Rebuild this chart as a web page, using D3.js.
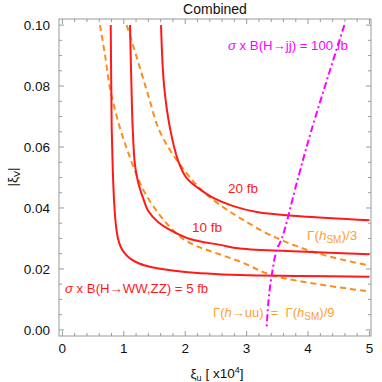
<!DOCTYPE html>
<html><head><meta charset="utf-8">
<script src="https://cdn.jsdelivr.net/npm/d3@7"></script>
<style>body{margin:0;background:#fff}svg{display:block}text{font-family:"Liberation Sans",Arial,sans-serif;white-space:pre}</style>
</head><body>
<svg id="c" width="382" height="382"></svg>
<script>
// ---- data (x: xi_u [x10^4], y: |xi_V|) ----
const xTicks = [0, 1, 2, 3, 4, 5];
const yTicks = [0.00, 0.02, 0.04, 0.06, 0.08, 0.10];
const yTickLabels = ["0.00", "0.02", "0.04", "0.06", "0.08", "0.10"];
const red5fb = [[0.787,0.1000],[0.795,0.082],[0.803,0.0662],[0.820,0.0530],[0.840,0.0430],[0.866,0.0355],[0.900,0.0305],[0.950,0.0272],[1.020,0.0250],[1.110,0.0233],[1.250,0.0218],[1.500,0.0204],[1.964,0.0191],[2.893,0.0180],[3.870,0.0177],[5.0,0.0174]];
const red10fb = [[1.101,0.1000],[1.122,0.0820],[1.145,0.0662],[1.182,0.0541],[1.236,0.0482],[1.313,0.0433],[1.399,0.0390],[1.557,0.0354],[1.752,0.0328],[2.078,0.0298],[2.567,0.0279],[2.893,0.0267],[3.870,0.0257],[5.0,0.0248]];
const red20fb = [[1.606,0.1000],[1.655,0.0803],[1.752,0.0662],[1.888,0.0553],[2.024,0.0498],[2.208,0.0466],[2.458,0.0433],[2.783,0.0406],[3.164,0.0387],[3.870,0.0373],[5.0,0.0360]];
const gammaThird = [[1.047,0.1000],[1.150,0.0934],[1.264,0.0859],[1.410,0.0761],[1.562,0.0662],[1.752,0.0590],[1.932,0.0538],[2.127,0.0489],[2.322,0.0449],[2.567,0.0410],[2.893,0.0367],[3.430,0.0307],[4.163,0.0251],[5.0,0.0211]];
const gammaNinth = [[0.612,0.1000],[0.694,0.0902],[0.775,0.0793],[0.938,0.0662],[1.068,0.0584],[1.231,0.0498],[1.362,0.0443],[1.536,0.0390],[1.720,0.0344],[1.943,0.0302],[2.160,0.0277],[2.404,0.0259],[2.893,0.0224],[3.409,0.0180],[4.195,0.0149],[5.0,0.0126]];
const jj100fb = [[4.591,0.1000],[4.358,0.0852],[4.049,0.0651],[3.837,0.0498],[3.577,0.0302],[3.490,0.0262],[3.409,0.0180],[3.357,0.0098],[3.327,0.0011]];

const svg = d3.select("#c");
const L = 59, R = 371, T = 19, B = 336;
const x = d3.scaleLinear().domain([-0.055, 5.025]).range([L, R]);
const y = d3.scaleLinear().domain([-0.002, 0.102]).range([B, T]);
const frameCol = "#9a9a9a";

// minor/major ticks
const g = svg.append("g");
const xMinor = d3.range(0, 5.001, 0.2);
const yMinor = d3.range(0, 0.1001, 0.005);
const isMajX = v => Math.abs(v - Math.round(v)) < 1e-6;
const isMajY = v => Math.abs(v/0.02 - Math.round(v/0.02)) < 1e-6;
xMinor.forEach(v => {
  const len = isMajX(v) ? 5 : 3;
  g.append("line").attr("x1", x(v)).attr("x2", x(v)).attr("y1", B).attr("y2", B - len).attr("stroke", frameCol);
  g.append("line").attr("x1", x(v)).attr("x2", x(v)).attr("y1", T).attr("y2", T + len).attr("stroke", frameCol);
});
yMinor.forEach(v => {
  const len = isMajY(v) ? 5 : 3;
  g.append("line").attr("y1", y(v)).attr("y2", y(v)).attr("x1", L).attr("x2", L + len).attr("stroke", frameCol);
  g.append("line").attr("y1", y(v)).attr("y2", y(v)).attr("x1", R).attr("x2", R - len).attr("stroke", frameCol);
});
svg.append("rect").attr("x", L).attr("y", T).attr("width", R - L).attr("height", B - T)
  .attr("fill", "none").attr("stroke", frameCol).attr("stroke-width", 1);

// tick labels
xTicks.forEach(v => svg.append("text").attr("x", x(v)).attr("y", 353).attr("text-anchor", "middle")
  .attr("font-size", 13.5).attr("fill", "#111").text(v));
yTicks.forEach((v, i) => svg.append("text").attr("x", 50).attr("y", y(v) + 5).attr("text-anchor", "end")
  .attr("font-size", 13.5).attr("fill", "#111").text(yTickLabels[i]));

// curves
svg.append("clipPath").attr("id", "pc").append("rect").attr("x", L).attr("y", T).attr("width", R - L).attr("height", B - T);
const line = d3.line().x(d => x(d[0])).y(d => y(d[1])).curve(d3.curveCatmullRom.alpha(0.5));
const cg = svg.append("g").attr("clip-path", "url(#pc)");
const RED = "#ff1a1a", ORANGE = "#ff8c1a", MAG = "#ff00ff";
[gammaNinth, gammaThird].forEach(d => cg.append("path").attr("d", line(d)).attr("fill", "none")
  .attr("stroke", ORANGE).attr("stroke-width", 2).attr("stroke-dasharray", "6,4"));
[red5fb, red10fb, red20fb].forEach(d => cg.append("path").attr("d", line(d)).attr("fill", "none")
  .attr("stroke", RED).attr("stroke-width", 2));
cg.append("path").attr("d", line(jj100fb)).attr("fill", "none").attr("stroke", MAG).attr("stroke-width", 2)
  .attr("stroke-dasharray", "7,3,2,3");

// title & axis labels
svg.append("text").attr("x", 215).attr("y", 14).attr("text-anchor", "middle").attr("font-size", 14).attr("fill", "#111").text("Combined");
const xl = svg.append("text").attr("x", 217).attr("y", 378).attr("text-anchor", "middle").attr("font-size", 13.5).attr("fill", "#111");
xl.append("tspan").text("ξ");
xl.append("tspan").attr("font-size", 9).attr("dy", 3).text("u");
xl.append("tspan").attr("dy", -3).text(" [ x10");
xl.append("tspan").attr("font-size", 9).attr("dy", -5).text("4");
xl.append("tspan").attr("dy", 5).text("]");
const yl = svg.append("text").attr("transform", "translate(17,177) rotate(-90)").attr("text-anchor", "middle").attr("font-size", 13.5).attr("fill", "#111");
yl.append("tspan").text("|ξ");
yl.append("tspan").attr("font-size", 9).attr("dy", 3).text("V");
yl.append("tspan").attr("dy", -3).text("|");

// annotations
function label(xp, yp, parts, color, fs) {
  const t = svg.append("text").attr("x", xp).attr("y", yp).attr("font-size", fs || 13.5).attr("fill", color);
  parts.forEach(p => {
    const s = t.append("tspan").text(p.t);
    if (p.i) s.attr("font-style", "italic");
    if (p.sub) s.attr("font-size", 10).attr("dy", 3);
    if (p.up) s.attr("dy", -3);
  });
  return t;
}
label(228, 50, [{t:"σ", i:1}, {t:" x B(H→jj) = 100 fb"}], MAG, 13.2);
label(228, 193, [{t:"20 fb"}], RED);
label(192, 232, [{t:"10 fb"}], RED);
label(307, 240, [{t:"Γ("}, {t:"h", i:1}, {t:"SM", sub:1}, {t:")/3", up:1}], "#ffa030");
label(65, 293, [{t:"σ", i:1}, {t:" x B(H→WW,ZZ) = 5 fb"}], RED, 13.2);
label(213, 317, [{t:"Γ("}, {t:"h", i:1}, {t:"→uu)  =  Γ("}, {t:"h", i:1}, {t:"SM", sub:1}, {t:")/9", up:1}], "#ffa030", 13);
</script>
</body></html>
